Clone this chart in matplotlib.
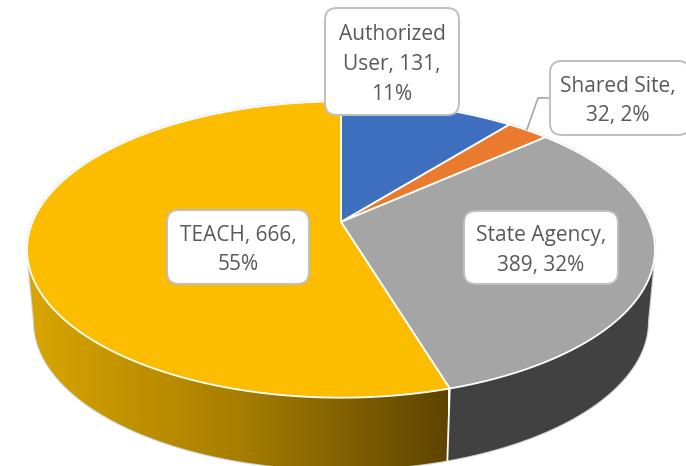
#!/usr/bin/env python
# coding: utf-8

import numpy as np
import matplotlib
matplotlib.use('Agg')
import matplotlib.pyplot as plt
from matplotlib.colors import LinearSegmentedColormap
from matplotlib.patches import FancyBboxPatch, Polygon

# slices, clockwise from twelve o'clock
names = ['Authorized User', 'Shared Site', 'State Agency', 'TEACH']
counts = [131, 32, 389, 666]
colors = ['#3F6FBF', '#EA7B2E', '#A5A5A5', '#FCBD00']
label_texts = ['Authorized\nUser, 131,\n11%', 'Shared Site,\n32, 2%', 'State Agency,\n389, 32%', 'TEACH, 666,\n55%']

# label boxes: left, top, width, height in pixels
boxes = [(325, 8, 134, 107), (550, 61, 140, 74), (464, 211, 154, 73), (167, 210, 142, 74)]

# perspective of the disc
CX, APEX_Y = 341, 222
A, B, K = 308.5, 143.0, 0.186
DEPTH = 72
BOTTOM_SCALE = 307 / 314


def rim(theta, bottom=False):
    """point on the pie edge, theta clockwise from the top"""
    u, v = np.sin(theta), np.cos(theta)
    w = 1 + K * v
    if bottom:
        return CX + BOTTOM_SCALE * A * u / w, APEX_Y + DEPTH - B * v / w
    return CX + A * u / w, APEX_Y - B * v / w


fig = plt.figure(figsize=(6.86, 4.66), dpi=100)
ax = fig.add_axes([0, 0, 1, 1])
ax.set_axis_off()

edges = np.concatenate([[0], np.cumsum(counts)]) / sum(counts) * 2 * np.pi
split = edges[3]

# the side wall, from the right tip round the front to the left tip
full = np.linspace(0, 2 * np.pi, 2000)
x_all, _ = rim(full)
right_tip = full[np.argmax(x_all)]
left_tip = full[np.argmin(x_all)]


def wall(t0, t1):
    t = np.linspace(t0, t1, 300)
    xt, yt = rim(t)
    xb, yb = rim(t, bottom=True)
    return np.column_stack([np.concatenate([xt, xb[::-1]]), np.concatenate([yt, yb[::-1]])])


gold_wall = Polygon(wall(split, left_tip), closed=True, facecolor='none', edgecolor='none', zorder=2)
ax.add_patch(gold_wall)
gold_map = LinearSegmentedColormap.from_list('wall', ['#D9A600', '#A87E00', '#5E4400'])
img = ax.imshow(np.linspace(0, 1, 256).reshape(1, -1), cmap=gold_map, aspect='auto',
                extent=(27, 448, 466, 250), zorder=2)
img.set_clip_path(gold_wall)
ax.add_patch(Polygon(wall(right_tip, split), closed=True, facecolor='#414141', edgecolor='none', zorder=2))

# thin grey outline round the whole pie
t_out = np.linspace(left_tip, right_tip + 2 * np.pi, 800)
ax.plot(*rim(t_out), color='#CFCFCF', lw=1.6, zorder=1)
t_low = np.linspace(right_tip, left_tip, 500)
xb, yb = rim(t_low, bottom=True)
xr, yr = rim(right_tip)
xl, yl = rim(left_tip)
ax.plot(np.r_[xr, xb, xl], np.r_[yr, yb, yl], color='#CFCFCF', lw=1.6, zorder=1)

# white seam between the gold and dark walls
xs, ys = rim(split)
xs2, ys2 = rim(split, bottom=True)
ax.plot([xs, xs2], [ys, ys2], color='white', lw=1.3, zorder=3)

# top faces
for i, color in enumerate(colors):
    t = np.linspace(edges[i], edges[i + 1], 300)
    x, y = rim(t)
    ax.fill(np.r_[CX, x], np.r_[APEX_Y, y], facecolor=color, edgecolor='white', lw=1.3,
            joinstyle='miter', zorder=4)

# leader line of the small slice
mid = (edges[1] + edges[2]) / 2
xm, ym = rim(mid)
ax.plot([xm - 1, 538, 549], [ym - 1, 98, 98], color='#A6A6A6', lw=1.2, zorder=5)

for text, (left, top, width, height) in zip(label_texts, boxes):
    ax.add_patch(FancyBboxPatch((left, top), width, height, boxstyle='round,pad=0,rounding_size=12',
                                facecolor='white', edgecolor='#BFBFBF', lw=1.4, zorder=6))
    ax.text(left + width / 2 - (2 if left == 550 else 0), top + height / 2 + 3, text, ha='center', va='center',
            fontsize=15, family='Open Sans', color='#595959', linespacing=1.55, zorder=7)

ax.set_xlim(0, 686)
ax.set_ylim(466, 0)

plt.savefig('out.png', dpi=100)
